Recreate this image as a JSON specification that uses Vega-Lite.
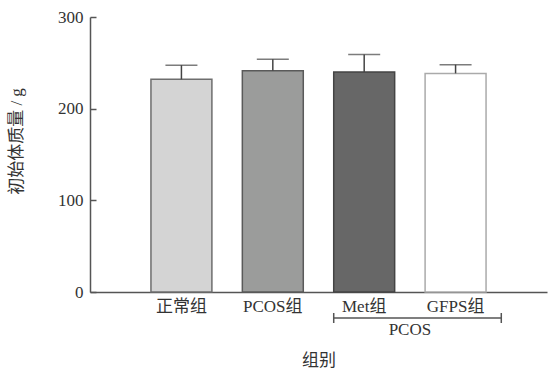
{
  "$schema": "https://vega.github.io/schema/vega-lite/v6.json",
  "autosize": "none",
  "width": 457,
  "height": 275,
  "padding": {"left": 90, "top": 17, "right": 2, "bottom": 77},
  "background": "white",
  "config": {
    "view": {"stroke": null},
    "font": "Liberation Serif, Noto Sans CJK SC",
    "axis": {
      "labelFont": "Liberation Serif, Noto Sans CJK SC",
      "titleFont": "Liberation Serif, Noto Sans CJK SC",
      "labelFontSize": 17,
      "titleFontSize": 17,
      "labelColor": "#333",
      "titleColor": "#333",
      "titleFontWeight": "normal",
      "domainColor": "#555",
      "domainWidth": 1.5,
      "tickColor": "#555",
      "tickWidth": 1.5,
      "grid": false
    }
  },
  "datasets": {
    "bars": [
      {"group": "正常组", "mean": 232, "upper": 247.5},
      {"group": "PCOS组", "mean": 241.5, "upper": 254},
      {"group": "Met组", "mean": 240, "upper": 259},
      {"group": "GFPS组", "mean": 238.5, "upper": 248}
    ],
    "bracket": [
      {"from": "Met组", "to": "GFPS组", "label": "PCOS"}
    ]
  },
  "layer": [
    {
      "data": {"name": "bars"},
      "mark": {"type": "bar", "strokeWidth": 1.5},
      "encoding": {
        "x": {
          "field": "group", "type": "nominal", "sort": null,
          "scale": {"domain": ["正常组", "PCOS组", "Met组", "GFPS组"], "paddingInner": 0.333, "paddingOuter": 0.667},
          "axis": {"labelAngle": 0, "tickSize": -6, "labelPadding": 12, "title": "组别", "titlePadding": 38}
        },
        "y": {
          "field": "mean", "type": "quantitative",
          "scale": {"domain": [0, 300], "nice": false},
          "axis": {"values": [0, 100, 200, 300], "tickSize": -6, "labelPadding": 13, "title": "初始体质量 / g", "titleX": -65, "titleY": 124}
        },
        "fill": {
          "field": "group", "type": "nominal", "sort": null, "legend": null,
          "scale": {"domain": ["正常组", "PCOS组", "Met组", "GFPS组"], "range": ["#d4d4d4", "#9b9c9b", "#676767", "#ffffff"]}
        },
        "stroke": {
          "field": "group", "type": "nominal", "sort": null, "legend": null,
          "scale": {"domain": ["正常组", "PCOS组", "Met组", "GFPS组"], "range": ["#6e6e6e", "#5a5a5a", "#444444", "#aaaaaa"]}
        }
      }
    },
    {
      "data": {"name": "bars"},
      "mark": {"type": "rule", "strokeWidth": 1.5, "color": "#444"},
      "encoding": {
        "x": {"field": "group", "type": "nominal", "sort": null},
        "y": {"field": "mean", "type": "quantitative"},
        "y2": {"field": "upper"}
      }
    },
    {
      "data": {"name": "bars"},
      "mark": {"type": "tick", "thickness": 1.5, "size": 32, "color": "#444"},
      "encoding": {
        "x": {"field": "group", "type": "nominal", "sort": null},
        "y": {"field": "upper", "type": "quantitative"}
      }
    },
    {
      "data": {"name": "bracket"},
      "mark": {"type": "rule", "strokeWidth": 1.5, "color": "#555", "yOffset": 26},
      "encoding": {
        "x": {"field": "from", "type": "nominal", "bandPosition": 0},
        "x2": {"field": "to", "bandPosition": 1.25},
        "y": {"datum": 0}
      }
    },
    {
      "data": {"name": "bracket"},
      "mark": {"type": "rule", "strokeWidth": 1.5, "color": "#555", "yOffset": 21, "y2Offset": 31},
      "encoding": {
        "x": {"field": "from", "type": "nominal", "bandPosition": 0},
        "y": {"datum": 0},
        "y2": {"datum": 0}
      }
    },
    {
      "data": {"name": "bracket"},
      "mark": {"type": "rule", "strokeWidth": 1.5, "color": "#555", "yOffset": 21, "y2Offset": 31},
      "encoding": {
        "x": {"field": "to", "type": "nominal", "bandPosition": 1.25},
        "y": {"datum": 0},
        "y2": {"datum": 0}
      }
    },
    {
      "data": {"name": "bracket"},
      "mark": {"type": "text", "fontSize": 17, "color": "#333", "baseline": "middle", "yOffset": 38},
      "encoding": {
        "x": {"field": "from", "type": "nominal", "bandPosition": 1.25},
        "y": {"datum": 0},
        "text": {"field": "label"}
      }
    }
  ]
}
